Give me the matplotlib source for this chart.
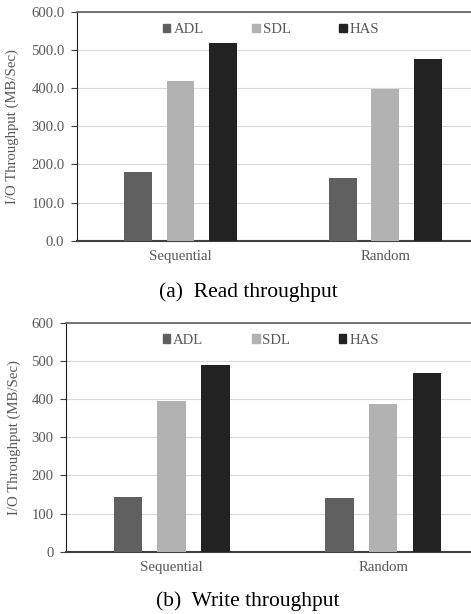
import matplotlib
matplotlib.use("Agg")
import matplotlib.pyplot as plt
from matplotlib.patches import Patch
import numpy as np

plt.rcParams['font.family'] = ['Liberation Serif', 'DejaVu Serif']

categories = ["Sequential", "Random"]
series = ["ADL", "SDL", "HAS"]
read_adl = [179.5, 163.8]
read_sdl = [418.0, 397.0]
read_has = [518.0, 476.0]
write_adl = [142.5, 140.0]
write_sdl = [394.0, 387.0]
write_has = [488.0, 468.0]
colors = ["#606060", "#b2b2b2", "#222222"]
tick_color = "#595959"

W, H = 471, 614
fig = plt.figure(figsize=(W/100, H/100), dpi=100)
FS = 10.6

def make_ax(left, top, bottom, data, fmt, xl, caption, cap_y, ylx):
    ax = fig.add_axes([left/W, 1-bottom/H, (W-left)/W + 0.02, (bottom-top)/H])
    x = np.arange(len(categories))
    bw = 0.135
    off = 0.2075
    for i, (vals, c, name) in enumerate(zip(data, colors, series)):
        ax.bar(x + (i-1)*off, vals, width=bw, color=c, linewidth=0, zorder=3, label=name)
    ax.set_ylim(0, 600)
    ax.set_yticks(np.arange(0, 601, 100))
    ax.set_yticklabels([fmt.format(v) for v in np.arange(0, 601, 100)])
    ax.set_xlim(*xl)
    ax.set_xticks(x)
    ax.set_xticklabels(categories)
    ax.grid(axis='y', color='#d9d9d9', linewidth=0.8, zorder=0)
    ax.spines['top'].set_color('#606060')
    ax.spines['top'].set_linewidth(1.2)
    ax.spines['left'].set_color('#202020')
    ax.spines['bottom'].set_color('#404040')
    ax.spines['bottom'].set_linewidth(1.5)
    ax.spines['right'].set_visible(False)
    ax.tick_params(axis='y', colors=tick_color, labelsize=FS, length=4, color='#404040', pad=5)
    ax.tick_params(axis='x', colors=tick_color, labelsize=FS, length=0, pad=7)
    ax.set_ylabel("I/O Throughput (MB/Sec)", color=tick_color, fontsize=FS)
    ax.yaxis.set_label_coords(ylx, 0.5)
    handles = [Patch(color=c, label=n) for c, n in zip(colors, series)]
    ax.legend(handles=handles, ncol=3, loc='upper left', bbox_to_anchor=((160-left)/(W-left) - 0.03, 1.01),
              frameon=False, fontsize=FS, handlelength=0.5, handleheight=0.5,
              handletextpad=0.2, columnspacing=3.3, labelcolor=tick_color)
    fig.text(248/W, 1-cap_y/H, caption, ha='center', va='center', fontsize=15.5, color='black')
    return ax

ax1 = make_ax(77, 12, 240.7, [read_adl, read_sdl, read_has], "{:.1f}", (-0.505, 1.465),
              "(a)  Read throughput", 292, -(77-20)/394)
ax2 = make_ax(66, 322.7, 551.7, [write_adl, write_sdl, write_has], "{:.0f}", (-0.5, 1.46),
              "(b)  Write throughput", 601.5, -(66-22)/405)

fig.savefig("out.png", dpi=100)
